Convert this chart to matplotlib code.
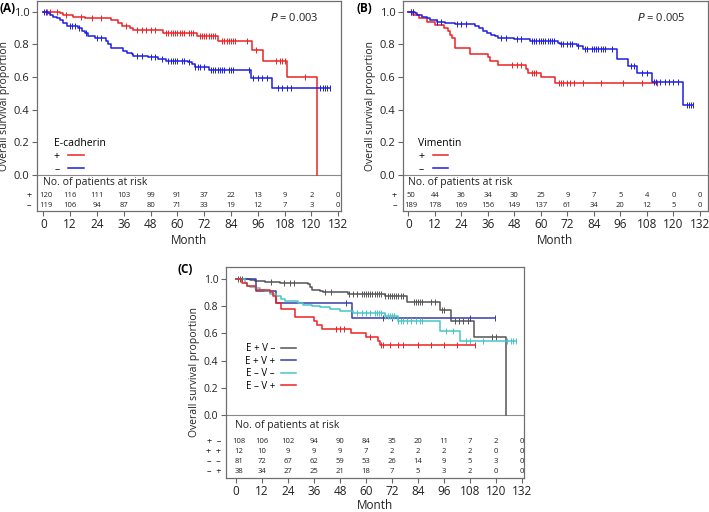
import numpy as np
import matplotlib
matplotlib.use("Agg")
import matplotlib.pyplot as plt
from matplotlib.lines import Line2D

plt.rcParams['font.family'] = ['Open Sans', 'DejaVu Sans']

RED = '#ec2226'
BLUE = '#1e1ee0'
GRAY = '#555555'
SLATE = '#3c3ca8'
CYAN = '#46c6c6'

months = np.arange(0, 133, 12)

# ---- (A) E-cadherin ----
a_pos_t = [7.5, 8.6, 13.4, 18.6, 30.5, 33.5, 35, 38.8, 40, 53.7, 68.6, 78.3, 93.2, 98.4, 109.2, 122.6]
a_pos_s = [0.99, 0.98, 0.97, 0.96, 0.95, 0.93, 0.91, 0.90, 0.89, 0.87, 0.85, 0.82, 0.765, 0.70, 0.60, 0.0]
a_pos_c = [1.5, 3, 6, 10, 17, 22, 26, 37, 42, 44, 46, 48, 50, 55, 56, 57, 58, 59, 60, 61, 62, 63, 65, 66,
           67, 70, 71, 72, 73, 74, 75, 76, 77, 80, 81, 82, 83, 84, 85, 86, 91, 95, 104, 106, 107, 108, 117]
a_neg_t = [2, 3, 4.5, 6, 7.5, 9, 10.4, 15.7, 17.2, 18.6, 20, 23, 28, 29, 30.5, 35.8, 37.3, 39.5, 40.3,
           47, 51.5, 55, 64.9, 66.4, 67.9, 74.3, 92.8, 102.2]
a_neg_s = [0.99, 0.98, 0.97, 0.96, 0.95, 0.93, 0.91, 0.90, 0.88, 0.87, 0.85, 0.84, 0.82, 0.80, 0.78,
           0.76, 0.75, 0.74, 0.73, 0.72, 0.71, 0.70, 0.69, 0.68, 0.66, 0.64, 0.595, 0.53]
a_neg_c = [0.5, 1, 12, 13, 14, 16, 19, 24, 26, 42, 44, 48, 50, 53, 56, 57, 58, 59, 60, 62, 63, 65, 68, 69,
           70, 72, 75, 76, 77, 78, 79, 80, 81, 83, 84, 85, 92, 94, 96, 98, 100, 105, 107, 109, 111,
           124, 125, 126, 127, 128.5]
a_risk_pos = [120, 116, 111, 103, 99, 91, 37, 22, 13, 9, 2, 0]
a_risk_neg = [119, 106, 94, 87, 80, 71, 33, 19, 12, 7, 3, 0]

# ---- (B) Vimentin ----
b_pos_t = [2.2, 4.6, 8.3, 12.1, 16.3, 18.1, 18.8, 19.9, 21.2, 27.9, 36.2, 36.9, 40.5, 53.3, 54.3, 60, 66.4]
b_pos_s = [0.98, 0.96, 0.94, 0.92, 0.90, 0.88, 0.86, 0.84, 0.78, 0.74, 0.72, 0.70, 0.675, 0.65, 0.625,
           0.60, 0.565]
b_pos_c = [1, 2, 47, 49, 51, 56, 57, 58, 68, 69, 70, 72, 73, 75, 79, 87, 97, 106, 112.4]
b_neg_t = [3.1, 3.8, 6, 7.5, 8.3, 9.8, 12.8, 16.6, 21.2, 30.2, 31.9, 34, 35.5, 37.6, 39.3, 40.7, 48,
           53.6, 55, 67.6, 68.6, 76.2, 79.2, 94.3, 99.3, 103.3, 110.1, 124.5]
b_neg_s = [0.99, 0.98, 0.97, 0.965, 0.96, 0.95, 0.94, 0.93, 0.925, 0.91, 0.90, 0.88, 0.87, 0.86, 0.85,
           0.84, 0.835, 0.83, 0.82, 0.81, 0.80, 0.79, 0.77, 0.71, 0.67, 0.625, 0.57, 0.43]
b_neg_c = [1, 2, 13, 15, 22, 24, 26, 42, 44, 49, 51, 56, 57, 58, 59, 60, 61, 62, 63, 64, 65, 66, 69, 70,
           72, 73, 74, 77, 80, 81, 83, 84, 85, 86, 87, 88, 89, 92, 101, 102, 106, 108, 111, 112, 114,
           116, 118, 120, 122, 126, 127, 128, 129]
b_risk_pos = [50, 44, 36, 34, 30, 25, 9, 7, 5, 4, 0, 0]
b_risk_neg = [189, 178, 169, 156, 149, 137, 61, 34, 20, 12, 5, 0]

# ---- (C) combined ----
c_epvn_t = [6.5, 8.8, 13.4, 20.3, 33.3, 34.1, 34.9, 38.7, 40.3, 51.8, 68.7, 79, 94.3, 99.4, 109.7, 124.5]
c_epvn_s = [0.99, 0.985, 0.975, 0.97, 0.96, 0.94, 0.92, 0.91, 0.90, 0.89, 0.87, 0.83, 0.77, 0.69, 0.575, 0.0]
c_epvn_c = [1, 2, 3, 16, 22, 25, 27, 41, 44, 52, 54, 56, 58, 59, 60, 61, 62, 63, 64, 65, 66, 67, 69, 70,
            71, 72, 73, 74, 75, 76, 77, 82, 83, 84, 85, 86, 90, 92, 95, 96, 101, 103, 105, 107, 118, 120]
c_epvp_t = [9.2, 18.4, 53.5]
c_epvp_s = [0.91, 0.82, 0.715]
c_epvp_c = [51, 68, 72, 108, 119.5]
c_envn_t = [4.1, 4.9, 6.5, 8.8, 11, 13.4, 15.7, 18.7, 21, 22.6, 28.7, 31, 34.9, 38.7, 43.3, 48, 54.1,
            68.7, 74.8, 94.3, 103.3]
c_envn_s = [0.97, 0.95, 0.94, 0.93, 0.92, 0.91, 0.89, 0.87, 0.855, 0.84, 0.82, 0.81, 0.80, 0.79, 0.78,
            0.76, 0.745, 0.73, 0.69, 0.62, 0.545]
c_envn_c = [56, 58, 60, 62, 64, 65, 66, 67, 69, 70, 71, 72, 73, 75, 76, 77, 79, 81, 83, 85, 86, 97, 100,
            106, 108, 114, 125, 127, 128, 129.4]
c_envp_t = [2.6, 4.9, 9.2, 15.7, 17.2, 18.7, 21, 27.2, 36, 37.2, 39.5, 53.3, 60, 65.6, 66.4]
c_envp_s = [0.97, 0.95, 0.92, 0.90, 0.87, 0.82, 0.78, 0.72, 0.69, 0.66, 0.63, 0.60, 0.57, 0.545, 0.515]
c_envp_c = [46, 48, 50, 62, 67, 68, 71, 75, 77, 84, 90, 96, 102, 110.5]
c_risk = [[108, 106, 102, 94, 90, 84, 35, 20, 11, 7, 2, 0],
          [12, 10, 9, 9, 9, 7, 2, 2, 2, 2, 0, 0],
          [81, 72, 67, 62, 59, 53, 26, 14, 9, 5, 3, 0],
          [38, 34, 27, 25, 21, 18, 7, 5, 3, 2, 0, 0]]


def km(ax, times, surv, cens, color):
    end = max(max(cens), times[-1])
    x = [0] + list(times) + [end]
    y = [1.0] + list(surv) + [surv[-1]]
    ax.step(x, y, where='post', color=color, lw=1.1, zorder=3)
    steps = np.array([1.0] + list(surv))
    idx = np.searchsorted(np.array(times), np.array(cens), side='right')
    ax.plot(cens, steps[idx], ls='none', marker='|', ms=4, mew=0.7, color=color, zorder=3)


def setup(ax, ylim, xlim, ysize=8, xpad=2):
    ax.set_xlim(*xlim)
    ax.set_ylim(*ylim)
    ax.set_xticks(months)
    ax.set_yticks(np.arange(0, 1.01, 0.2))
    ax.set_yticklabels([f'{v:.1f}' for v in np.arange(0, 1.01, 0.2)])
    ax.tick_params(direction='out', length=3.5, width=0.8, color='#666666', labelsize=8.5,
                   labelcolor='#222222', pad=2)
    ax.tick_params(axis='y', labelsize=ysize)
    for sp in ax.spines.values():
        sp.set_color('#707070')
        sp.set_linewidth(0.9)
    ax.axhline(0, color='#888888', lw=0.8, zorder=2)
    ax.set_xlabel('Month', fontsize=8.5, color='#222222', labelpad=xpad)
    ax.set_ylabel('Overall survival proportion', fontsize=7.5, color='#222222', labelpad=3)


def risk_table(ax, rows, labels, ys, label_x, head_y):
    ax.text(-0.3, head_y, 'No. of patients at risk', fontsize=7.5, color='#222222',
            ha='left', va='center')
    for row, lab, yy in zip(rows, labels, ys):
        ax.text(label_x, yy, lab, fontsize=6.5, ha='center', va='center', color='#222222', clip_on=False)
        for m, n in zip(months, row):
            ax.text(m + (1.2 if m == 0 else 0), yy, str(n), fontsize=5.5, ha='center', va='center',
                    color='#222222')


fig = plt.figure(figsize=(7.09, 5.12), dpi=100)

# (A)
axA = fig.add_axes([0.0526, 0.5885, 0.428, 0.4095])
setup(axA, (-0.221, 1.066), (-2.7, 133.1))
km(axA, a_pos_t, a_pos_s, a_pos_c, RED)
km(axA, a_neg_t, a_neg_s, a_neg_c, BLUE)
axA.text(101.4, 0.96, r'$\it{P}$ = 0.003', fontsize=8, ha='left', va='center', color='#222222')
risk_table(axA, [a_risk_pos, a_risk_neg], ['+', '\u2013'], [-0.125, -0.19], -6.3, -0.049)
axA.legend([Line2D([], [], color=RED, lw=1.1), Line2D([], [], color=BLUE, lw=1.1)],
           ['+', '\u2013'], title='E-cadherin', markerfirst=False, frameon=False,
           loc='lower left', bbox_to_anchor=(0.03, 0.135), fontsize=7.5, title_fontsize=7.5,
           handlelength=1.5, labelspacing=0.2, handletextpad=0.8, borderpad=0.2, alignment='left')
fig.text(0.0, 0.997, '(A)', fontsize=8.5, fontweight='bold', ha='left', va='top')

# (B)
axB = fig.add_axes([0.5688, 0.5885, 0.4293, 0.4095])
setup(axB, (-0.221, 1.066), (-2.3, 135.5))
km(axB, b_pos_t, b_pos_s, b_pos_c, RED)
km(axB, b_neg_t, b_neg_s, b_neg_c, BLUE)
axB.text(103.3, 0.96, r'$\it{P}$ = 0.005', fontsize=8, ha='left', va='center', color='#222222')
risk_table(axB, [b_risk_pos, b_risk_neg], ['+', '\u2013'], [-0.125, -0.19], -6.3, -0.049)
axB.legend([Line2D([], [], color=RED, lw=1.1), Line2D([], [], color=BLUE, lw=1.1)],
           ['+', '\u2013'], title='Vimentin', markerfirst=False, frameon=False,
           loc='lower left', bbox_to_anchor=(0.025, 0.135), fontsize=7.5, title_fontsize=7.5,
           handlelength=1.5, labelspacing=0.2, handletextpad=0.8, borderpad=0.2, alignment='left')
fig.text(0.503, 0.997, '(B)', fontsize=8.5, fontweight='bold', ha='left', va='top')

# (C)
axC = fig.add_axes([0.3188, 0.067, 0.4203, 0.412])
setup(axC, (-0.46, 1.088), (-4.6, 133.0), ysize=7.5, xpad=0.5)
km(axC, c_epvn_t, c_epvn_s, c_epvn_c, GRAY)
km(axC, c_epvp_t, c_epvp_s, c_epvp_c, SLATE)
km(axC, c_envn_t, c_envn_s, c_envn_c, CYAN)
km(axC, c_envp_t, c_envp_s, c_envp_c, RED)
risk_table(axC, c_risk, ['+  \u2013', '+  +', '\u2013  \u2013', '\u2013  +'],
           [-0.194, -0.267, -0.343, -0.416], -10.2, -0.078)
axC.legend([Line2D([], [], color=c, lw=1.1) for c in (GRAY, SLATE, CYAN, RED)],
           ['E + V \u2013', 'E + V +', 'E \u2013 V \u2013', 'E \u2013 V +'], markerfirst=False,
           frameon=False, loc='lower left', bbox_to_anchor=(0.04, 0.375), fontsize=7,
           handlelength=1.6, labelspacing=0.15, handletextpad=0.6, borderpad=0.2)
fig.text(0.2497, 0.486, '(C)', fontsize=8.5, fontweight='bold', ha='left', va='top')

fig.savefig('out.png', dpi=100)
